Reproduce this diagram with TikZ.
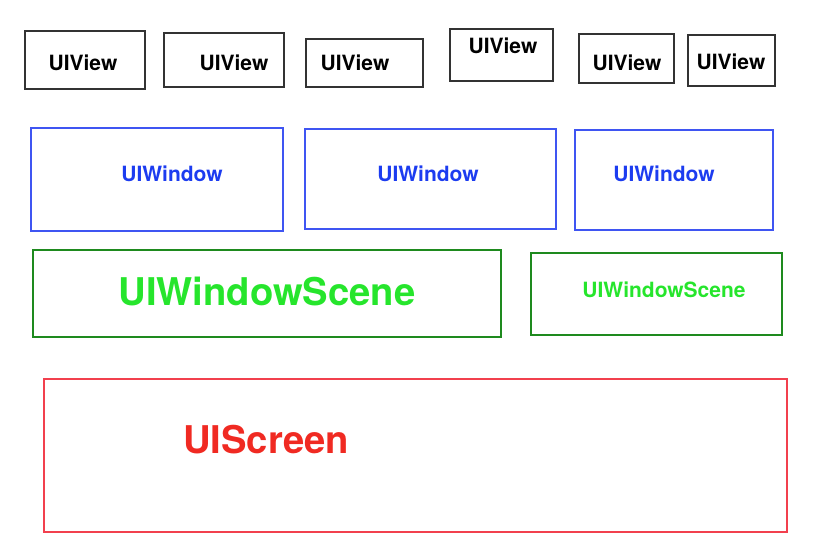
\documentclass[tikz,border=0pt]{standalone}
\usepackage{fontspec}
\setmainfont{TeX Gyre Heros}
\usepackage{tikz}
\usetikzlibrary{positioning}
\definecolor{vgray}{HTML}{333333}
\definecolor{wblue}{HTML}{3F55F2}
\definecolor{wbluetxt}{HTML}{1C3CF0}
\definecolor{sgreen}{HTML}{1E8A1E}
\definecolor{sgreentxt}{HTML}{26E52C}
\definecolor{rred}{HTML}{F2404E}
\definecolor{rredtxt}{HTML}{F02A22}
\tikzset{
  frame/.style={draw,rectangle,inner sep=0pt,line width=1.2pt},
  viewbox/.style={frame,draw=vgray},
  winbox/.style={frame,draw=wblue},
  scenebox/.style={frame,draw=sgreen},
  screenbox/.style={frame,draw=rred},
  small/.style={font=\fontsize{21}{24}\selectfont\bfseries,inner sep=0pt},
  big/.style={font=\fontsize{38.2}{44}\selectfont\bfseries,inner sep=0pt},
}
\begin{document}
\begin{tikzpicture}[x=1pt,y=-1pt]
  \useasboundingbox (0,0) rectangle (820,558);
  % UIView row
  \node[viewbox,minimum width=120pt,minimum height=58pt] (view1) at (85,60) {};
  \node[viewbox,minimum width=120pt,minimum height=54pt] (view2) at (224,60) {};
  \node[viewbox,minimum width=117pt,minimum height=48pt] (view3) at (364.5,63) {};
  \node[viewbox,minimum width=103pt,minimum height=52pt] (view4) at (501.5,55) {};
  \node[viewbox,minimum width=95pt,minimum height=49pt] (view5) at (626.5,58.5) {};
  \node[viewbox,minimum width=87pt,minimum height=51pt] (view6) at (731.5,60.5) {};
  \node[small] (view1txt) at (83,63) {UIView};
  \node[small] (view2txt) at (234,63) {UIView};
  \node[small] (view3txt) at (355,63) {UIView};
  \node[small] (view4txt) at (503,46) {UIView};
  \node[small] (view5txt) at (627,63) {UIView};
  \node[small] (view6txt) at (731,62) {UIView};
  % UIWindow row
  \node[winbox,minimum width=252pt,minimum height=103pt] (win1) at (157,179.5) {};
  \node[winbox,minimum width=251pt,minimum height=100pt] (win2) at (430.5,179) {};
  \node[winbox,minimum width=198pt,minimum height=100pt] (win3) at (674,180) {};
  \node[small,text=wbluetxt] (win1txt) at (172,174) {UIWindow};
  \node[small,text=wbluetxt] (win2txt) at (428,174) {UIWindow};
  \node[small,text=wbluetxt] (win3txt) at (664,174) {UIWindow};
  % UIWindowScene row
  \node[scenebox,minimum width=468pt,minimum height=87pt] (scene1) at (267,293.5) {};
  \node[scenebox,minimum width=251pt,minimum height=82pt] (scene2) at (656.5,294) {};
  \node[big,text=sgreentxt] (scene1txt) at (267,291) {UIWindowScene};
  \node[small,text=sgreentxt] (scene2txt) at (664,290) {UIWindowScene};
  % UIScreen
  \node[screenbox,minimum width=743pt,minimum height=153pt] (screen) at (415.5,455.5) {};
  \node[big,text=rredtxt] (screentxt) at (266,440) {UIScreen};
\end{tikzpicture}
\end{document}
